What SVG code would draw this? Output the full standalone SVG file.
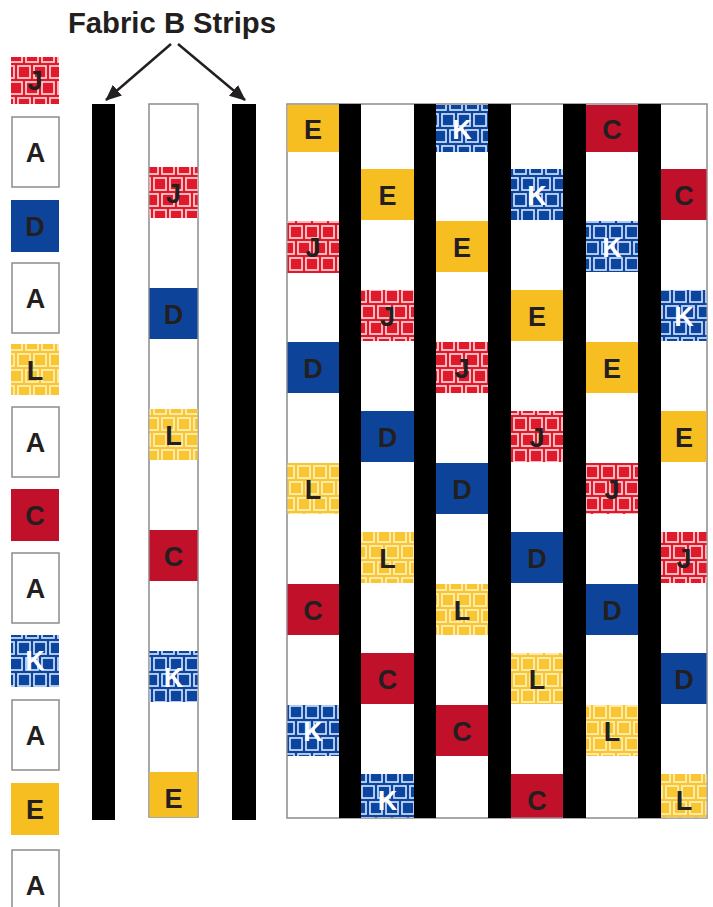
<svg xmlns="http://www.w3.org/2000/svg" width="713" height="907" viewBox="0 0 713 907">
<style>
.lt{font-family:"Liberation Sans",Arial,sans-serif;font-weight:bold;font-size:27px;text-anchor:middle;fill:#231f20}
.wt{fill:#ffffff}
.ttl{font-family:"Liberation Sans",Arial,sans-serif;font-weight:bold;font-size:29px;fill:#231f20}
.aw{fill:#ffffff;stroke:#8c8c8c;stroke-width:1.5}
.blk{fill:#000000}
.jr{fill:url(#pj)}
.kb{fill:url(#pk)}
.ly{fill:url(#pl)}
.cr{fill:#c0102a}
.db{fill:#0d4499}
.ey{fill:#f7be22}
.conn{stroke:#231f20;stroke-width:2.5;fill:none}
</style>
<defs>
<pattern id="pj" width="16" height="32" patternUnits="userSpaceOnUse">
<rect width="16" height="32" fill="#e01a2b"/>
<rect x="2" y="2" width="12" height="12" fill="none" stroke="#fbc9cd" stroke-width="1.8"/>
<rect x="-6" y="18" width="12" height="12" fill="none" stroke="#fbc9cd" stroke-width="1.8"/>
<rect x="10" y="18" width="12" height="12" fill="none" stroke="#fbc9cd" stroke-width="1.8"/>
</pattern>
<pattern id="pk" width="16" height="32" patternUnits="userSpaceOnUse">
<rect width="16" height="32" fill="#0c45a0"/>
<rect x="2" y="2" width="12" height="12" fill="none" stroke="#c3d6f2" stroke-width="1.8"/>
<rect x="-6" y="18" width="12" height="12" fill="none" stroke="#c3d6f2" stroke-width="1.8"/>
<rect x="10" y="18" width="12" height="12" fill="none" stroke="#c3d6f2" stroke-width="1.8"/>
</pattern>
<pattern id="pl" width="16" height="32" patternUnits="userSpaceOnUse">
<rect width="16" height="32" fill="#f8c632"/>
<rect x="2" y="2" width="12" height="12" fill="none" stroke="#feecb2" stroke-width="1.8"/>
<rect x="-6" y="18" width="12" height="12" fill="none" stroke="#feecb2" stroke-width="1.8"/>
<rect x="10" y="18" width="12" height="12" fill="none" stroke="#feecb2" stroke-width="1.8"/>
</pattern>
<marker id="ah2" viewBox="0 0 16 14" refX="15" refY="7" markerWidth="16" markerHeight="14" orient="auto" markerUnits="userSpaceOnUse">
<path d="M0,0 L16,7 L0,14 z" fill="#231f20"/>
</marker>
</defs>
<rect width="713" height="907" fill="#ffffff"/>

<g id="title"><text class="ttl" x="68" y="33" textLength="208" lengthAdjust="spacingAndGlyphs">Fabric B Strips</text></g>

<g id="left-J"><rect class="jr" x="11" y="57" width="48" height="47"/><text class="lt" x="35" y="90">J</text></g>
<g id="left-A1"><rect class="aw" x="12" y="117" width="47" height="70"/><text class="lt" x="35.5" y="162">A</text></g>
<g id="left-D"><rect class="db" x="11" y="200" width="48" height="52"/><text class="lt" x="35" y="236">D</text></g>
<g id="left-A2"><rect class="aw" x="12" y="263" width="47" height="70"/><text class="lt" x="35.5" y="308">A</text></g>
<g id="left-L"><rect class="ly" x="11" y="344" width="48" height="51"/><text class="lt" x="35" y="380">L</text></g>
<g id="left-A3"><rect class="aw" x="12" y="407" width="47" height="70"/><text class="lt" x="35.5" y="452">A</text></g>
<g id="left-C"><rect class="cr" x="11" y="489" width="48" height="52"/><text class="lt" x="35" y="525">C</text></g>
<g id="left-A4"><rect class="aw" x="12" y="553" width="47" height="70"/><text class="lt" x="35.5" y="598">A</text></g>
<g id="left-K"><rect class="kb" x="11" y="635" width="48" height="52"/><text class="lt wt" x="35" y="670">K</text></g>
<g id="left-A5"><rect class="aw" x="12" y="700" width="47" height="70"/><text class="lt" x="35.5" y="745">A</text></g>
<g id="left-E"><rect class="ey" x="11" y="783" width="48" height="52"/><text class="lt" x="35" y="819">E</text></g>
<g id="left-A6"><rect class="aw" x="12" y="850" width="47" height="70"/><text class="lt" x="35.5" y="895">A</text></g>

<g id="strip-B1"><rect class="blk" x="92" y="104" width="23" height="716"/></g>
<g id="strip-B2"><rect class="blk" x="232" y="104" width="24" height="716"/></g>

<g id="strip-mid">
<rect x="149" y="104" width="49" height="713" fill="#ffffff" stroke="#8c8c8c" stroke-width="1.5"/>
<rect class="jr" x="149.5" y="167" width="48" height="51"/><text class="lt" x="173.5" y="203">J</text>
<rect class="db" x="149.5" y="288" width="48" height="51"/><text class="lt" x="173.5" y="324">D</text>
<rect class="ly" x="149.5" y="409" width="48" height="51"/><text class="lt" x="173.5" y="445">L</text>
<rect class="cr" x="149.5" y="530" width="48" height="51"/><text class="lt" x="173.5" y="566">C</text>
<rect class="kb" x="149.5" y="651" width="48" height="51"/><text class="lt wt" x="173.5" y="687">K</text>
<rect class="ey" x="149.5" y="772" width="48" height="45"/><text class="lt" x="173.5" y="808">E</text>
</g>

<g id="panel">
<rect x="287" y="104" width="420" height="714" fill="#ffffff" stroke="#8c8c8c" stroke-width="1.5"/>
</g>
<g id="col1">
<rect class="ey" x="287.5" y="105" width="51.5" height="47"/><text class="lt" x="313" y="139">E</text>
<rect class="jr" x="287.5" y="221" width="51.5" height="52"/><text class="lt" x="313" y="257">J</text>
<rect class="db" x="287.5" y="342" width="51.5" height="51"/><text class="lt" x="313" y="378">D</text>
<rect class="ly" x="287.5" y="463" width="51.5" height="51"/><text class="lt" x="313" y="499">L</text>
<rect class="cr" x="287.5" y="584" width="51.5" height="51"/><text class="lt" x="313" y="620">C</text>
<rect class="kb" x="287.5" y="705" width="51.5" height="51"/><text class="lt wt" x="313" y="741">K</text>
</g>
<g id="col2">
<rect class="ey" x="361" y="169" width="53" height="51"/><text class="lt" x="387.5" y="205">E</text>
<rect class="jr" x="361" y="290" width="53" height="51"/><text class="lt" x="387.5" y="326">J</text>
<rect class="db" x="361" y="411" width="53" height="51"/><text class="lt" x="387.5" y="447">D</text>
<rect class="ly" x="361" y="532" width="53" height="51"/><text class="lt" x="387.5" y="568">L</text>
<rect class="cr" x="361" y="653" width="53" height="51"/><text class="lt" x="387.5" y="689">C</text>
<rect class="kb" x="361" y="774" width="53" height="43.5"/><text class="lt wt" x="387.5" y="810">K</text>
</g>
<g id="col3">
<rect class="kb" x="436" y="105" width="52" height="47"/><text class="lt wt" x="462" y="139">K</text>
<rect class="ey" x="436" y="221" width="52" height="51"/><text class="lt" x="462" y="257">E</text>
<rect class="jr" x="436" y="342" width="52" height="51"/><text class="lt" x="462" y="378">J</text>
<rect class="db" x="436" y="463" width="52" height="51"/><text class="lt" x="462" y="499">D</text>
<rect class="ly" x="436" y="584" width="52" height="51"/><text class="lt" x="462" y="620">L</text>
<rect class="cr" x="436" y="705" width="52" height="51"/><text class="lt" x="462" y="741">C</text>
</g>
<g id="col4">
<rect class="kb" x="511" y="169" width="52" height="51"/><text class="lt wt" x="537" y="205">K</text>
<rect class="ey" x="511" y="290" width="52" height="51"/><text class="lt" x="537" y="326">E</text>
<rect class="jr" x="511" y="411" width="52" height="51"/><text class="lt" x="537" y="447">J</text>
<rect class="db" x="511" y="532" width="52" height="51"/><text class="lt" x="537" y="568">D</text>
<rect class="ly" x="511" y="653" width="52" height="51"/><text class="lt" x="537" y="689">L</text>
<rect class="cr" x="511" y="774" width="52" height="43.5"/><text class="lt" x="537" y="810">C</text>
</g>
<g id="col5">
<rect class="cr" x="586" y="105" width="52" height="47"/><text class="lt" x="612" y="139">C</text>
<rect class="kb" x="586" y="221" width="52" height="51"/><text class="lt wt" x="612" y="257">K</text>
<rect class="ey" x="586" y="342" width="52" height="51"/><text class="lt" x="612" y="378">E</text>
<rect class="jr" x="586" y="463" width="52" height="51"/><text class="lt" x="612" y="499">J</text>
<rect class="db" x="586" y="584" width="52" height="51"/><text class="lt" x="612" y="620">D</text>
<rect class="ly" x="586" y="705" width="52" height="51"/><text class="lt" x="612" y="741">L</text>
</g>
<g id="col6">
<rect class="cr" x="661" y="169" width="45.5" height="51"/><text class="lt" x="684" y="205">C</text>
<rect class="kb" x="661" y="290" width="45.5" height="51"/><text class="lt wt" x="684" y="326">K</text>
<rect class="ey" x="661" y="411" width="45.5" height="51"/><text class="lt" x="684" y="447">E</text>
<rect class="jr" x="661" y="532" width="45.5" height="51"/><text class="lt" x="684" y="568">J</text>
<rect class="db" x="661" y="653" width="45.5" height="51"/><text class="lt" x="684" y="689">D</text>
<rect class="ly" x="661" y="774" width="45.5" height="43.5"/><text class="lt" x="684" y="810">L</text>
</g>
<g id="panel-strips">
<rect class="blk" x="339" y="104" width="22" height="714"/>
<rect class="blk" x="414" y="104" width="22" height="714"/>
<rect class="blk" x="488" y="104" width="23" height="714"/>
<rect class="blk" x="563" y="104" width="23" height="714"/>
<rect class="blk" x="638" y="104" width="23" height="714"/>
</g>

<g id="connectors">
<line class="conn" x1="171" y1="44" x2="106" y2="100" marker-end="url(#ah2)"/>
<line class="conn" x1="178" y1="44" x2="245" y2="100" marker-end="url(#ah2)"/>
</g>
</svg>
